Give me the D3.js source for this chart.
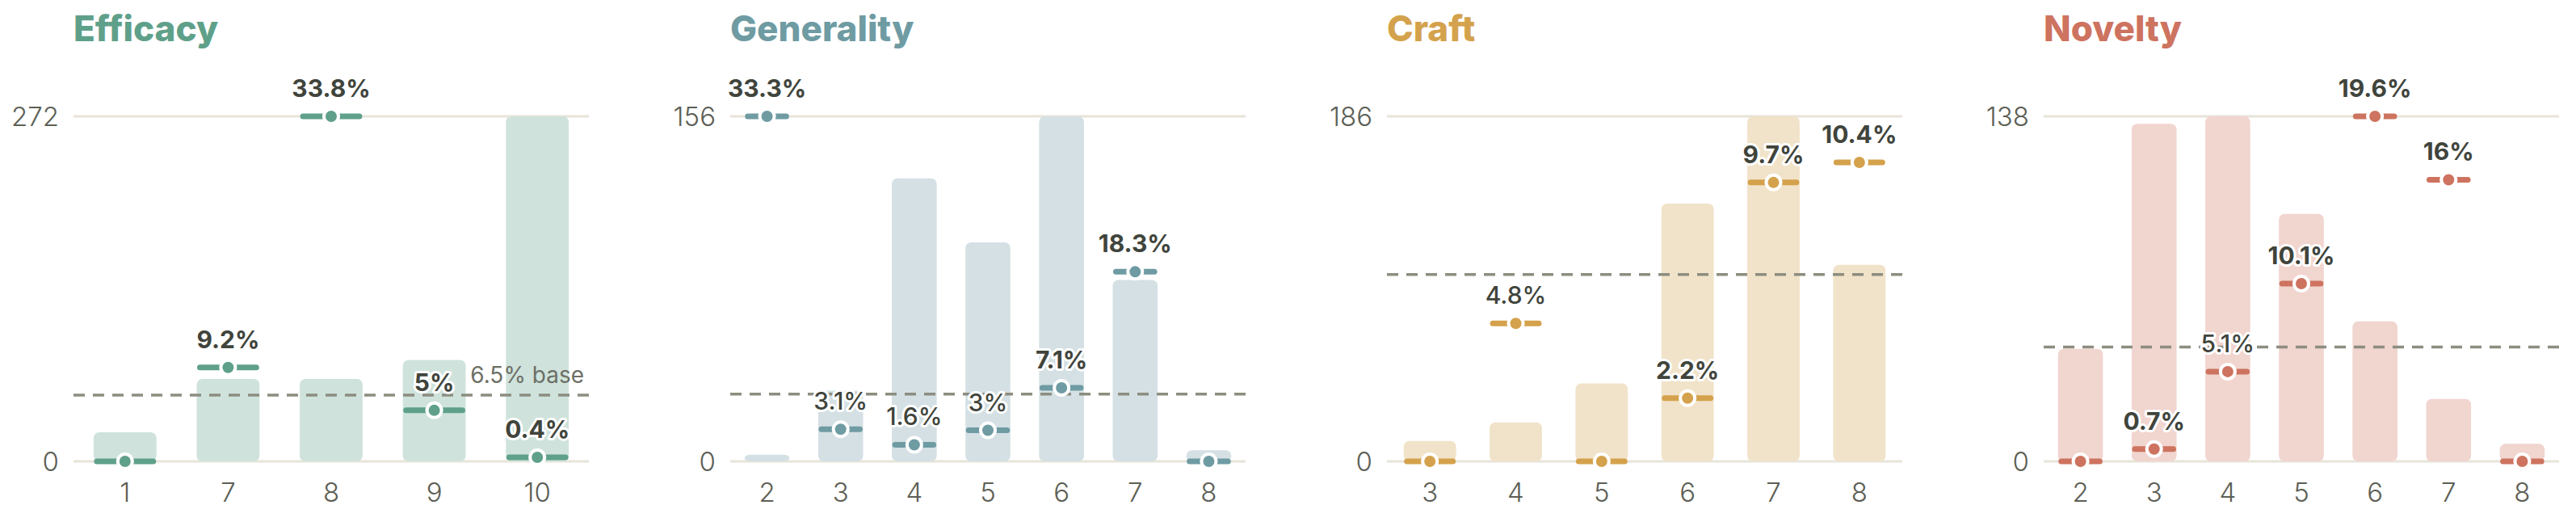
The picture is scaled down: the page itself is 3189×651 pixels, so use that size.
<!DOCTYPE html>
<html>
<head>
<meta charset="utf-8">
<script src="https://cdn.jsdelivr.net/npm/d3@7"></script>
<style>
  body { margin: 0; background: #fff; }
  svg { display: block; font-family: Inter, "Noto Sans", sans-serif; }
</style>
</head>
<body>
<svg id="chart"></svg>
<script>
// rate of positives per score bucket, for four rubric dimensions
var baseRate = 6.5;

var efficacyScores = ["1", "7", "8", "9", "10"];
var efficacyCounts = [23, 65, 65, 80, 272];
var efficacyRates  = [0, 9.2, 33.8, 5, 0.4];
var efficacyStrong = [true, true, true, true, true];

var generalityScores = ["2", "3", "4", "5", "6", "7", "8"];
var generalityCounts = [3, 32, 128, 99, 156, 82, 5];
var generalityRates  = [33.3, 3.1, 1.6, 3, 7.1, 18.3, 0];
var generalityStrong = [true, false, false, false, true, true, true];

var craftScores = ["3", "4", "5", "6", "7", "8"];
var craftCounts = [11, 21, 42, 139, 186, 106];
var craftRates  = [0, 4.8, 0, 2.2, 9.7, 10.4];
var craftStrong = [true, false, true, true, true, true];

var noveltyScores = ["2", "3", "4", "5", "6", "7", "8"];
var noveltyCounts = [45, 135, 138, 99, 56, 25, 7];
var noveltyRates  = [0, 0.7, 5.1, 10.1, 19.6, 16, 0];
var noveltyStrong = [true, true, false, true, true, true, true];

var panelTitles = ["Efficacy", "Generality", "Craft", "Novelty"];

var panels = [
  {scores: efficacyScores, counts: efficacyCounts, rates: efficacyRates, strong: efficacyStrong},
  {scores: generalityScores, counts: generalityCounts, rates: generalityRates, strong: generalityStrong},
  {scores: craftScores, counts: craftCounts, rates: craftRates, strong: craftStrong},
  {scores: noveltyScores, counts: noveltyCounts, rates: noveltyRates, strong: noveltyStrong}
];

// look
var ink = ["#5fa08a", "#6f9ba3", "#d4a24c", "#cd735f"];
var barFill = ["#cfe3dc", "#d4e0e4", "#f1e3c9", "#f1d5cf"];

var W = 3189, H = 651;
var panelStep = 813, left0 = 91, plotW = 638;
var plotTop = 144, plotBottom = 571;

var svg = d3.select("#chart").attr("width", W).attr("height", H);

panels.forEach(function(p, i) {
  var g = svg.append("g")
    .attr("transform", "translate(" + (left0 + i * panelStep) + ",0)");

  var data = p.scores.map(function(s, j) {
    return {score: s, count: p.counts[j], rate: p.rates[j], strong: p.strong[j]};
  });

  var x = d3.scaleBand().domain(p.scores).range([0, plotW])
    .paddingInner(0.39).paddingOuter(0.195);
  var yMax = d3.max(p.counts);
  var y = d3.scaleLinear().domain([0, yMax]).range([plotBottom, plotTop]);
  var r = d3.scaleLinear().domain([0, Math.max(d3.max(p.rates), 12)]).range([plotBottom, plotTop]);

  // title
  g.append("text")
    .attr("x", 0).attr("y", 51)
    .attr("fill", ink[i])
    .style("font-size", "44px").style("font-weight", 800)
    .text(panelTitles[i]);

  // gridlines at 0 and max
  g.selectAll(".grid").data([0, yMax]).enter().append("line")
    .attr("x1", 0).attr("x2", plotW)
    .attr("y1", function(d) { return y(d); })
    .attr("y2", function(d) { return y(d); })
    .attr("stroke", "#e8e4d9").attr("stroke-width", 3);

  // y tick labels
  g.selectAll(".ytick").data([0, yMax]).enter().append("text")
    .attr("x", -18).attr("y", function(d) { return y(d); })
    .attr("dy", "0.36em")
    .attr("text-anchor", "end")
    .attr("fill", "#5d5f56")
    .style("font-size", "33px").style("font-weight", 300)
    .text(function(d) { return d; });

  // x tick labels
  g.selectAll(".xtick").data(p.scores).enter().append("text")
    .attr("x", function(d) { return x(d) + x.bandwidth() / 2; })
    .attr("y", 621)
    .attr("text-anchor", "middle")
    .attr("fill", "#5d5f56")
    .style("font-size", "33px").style("font-weight", 300)
    .text(function(d) { return d; });

  // count bars
  g.selectAll(".bar").data(data).enter().append("rect")
    .attr("x", function(d) { return x(d.score); })
    .attr("y", function(d) { return y(d.count); })
    .attr("width", x.bandwidth())
    .attr("height", function(d) { return y(0) - y(d.count); })
    .attr("rx", 7)
    .attr("fill", barFill[i]);

  // base rate line
  g.append("line")
    .attr("x1", 0).attr("x2", plotW)
    .attr("y1", r(baseRate)).attr("y2", r(baseRate))
    .attr("stroke", "#8d8d80").attr("stroke-width", 3.5)
    .attr("stroke-dasharray", "14,10");

  if (i === 0) {
    g.append("text")
      .attr("x", plotW - 6).attr("y", r(baseRate) - 15)
      .attr("text-anchor", "end")
      .attr("fill", "#6d6f66")
      .style("font-size", "28px").style("font-weight", 400)
      .text(baseRate + "% base");
  }

  // rate markers
  var m = g.selectAll(".marker").data(data).enter().append("g");
  m.append("line")
    .attr("x1", function(d) { return x(d.score) + 4; })
    .attr("x2", function(d) { return x(d.score) + x.bandwidth() - 4; })
    .attr("y1", function(d) { return r(d.rate); })
    .attr("y2", function(d) { return r(d.rate); })
    .attr("stroke", ink[i]).attr("stroke-width", 7)
    .attr("stroke-linecap", "round");
  m.append("circle")
    .attr("cx", function(d) { return x(d.score) + x.bandwidth() / 2; })
    .attr("cy", function(d) { return r(d.rate); })
    .attr("r", 9)
    .attr("fill", ink[i])
    .attr("stroke", "#fff").attr("stroke-width", 4);

  // rate labels (none for zero)
  g.selectAll(".lab").data(data.filter(function(d) { return d.rate > 0; }))
    .enter().append("text")
    .attr("x", function(d) { return x(d.score) + x.bandwidth() / 2; })
    .attr("y", function(d) { return r(d.rate) - 24; })
    .attr("text-anchor", "middle")
    .attr("fill", "#40443c")
    .attr("stroke", "#fff").attr("stroke-width", 6)
    .attr("stroke-linejoin", "round")
    .style("paint-order", "stroke")
    .style("font-size", "30px")
    .style("font-weight", function(d) { return d.strong ? 700 : 500; })
    .text(function(d) { return (+d.rate.toFixed(1)) + "%"; });
});
</script>
</body>
</html>
